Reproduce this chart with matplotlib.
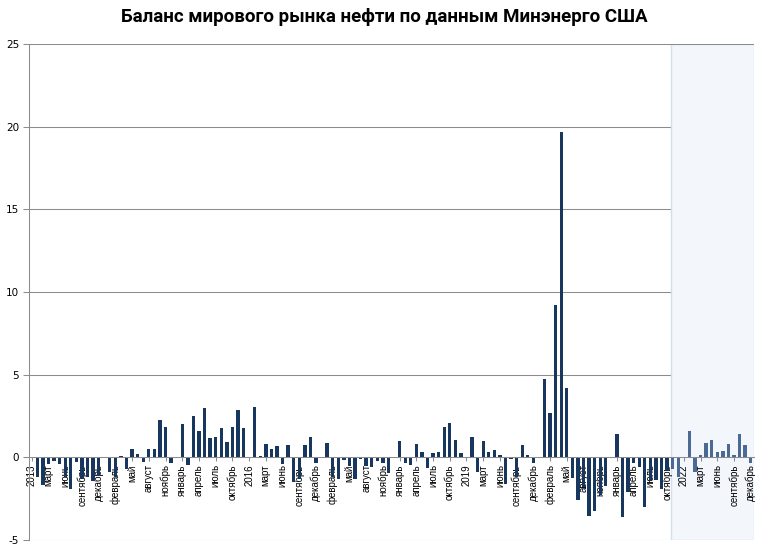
import numpy as np
import matplotlib.pyplot as plt

plt.rcParams['axes.unicode_minus'] = False

# Balance of the world oil market (EIA), monthly, mb/d
years = [2013, 2014, 2015, 2016, 2017, 2018, 2019, 2020, 2021, 2022]
months = ['январь', 'февраль', 'март', 'апрель', 'май', 'июнь',
          'июль', 'август', 'сентябрь', 'октябрь', 'ноябрь', 'декабрь']

bal_2013 = [-1.17, -1.68, -0.43, -0.23, -0.39, -1.17, -1.92, -0.27, -1.33, -1.17, -1.43, -1.13]
bal_2014 = [-0.89, -1.2, 0.1, -0.69, 0.48, 0.23, -0.28, 0.52, 0.48, 2.24, 1.81, -0.34]
bal_2015 = [2.0, -0.47, 2.49, 1.59, 2.98, 1.15, 1.21, 1.76, 0.92, 1.82, 2.85, 1.76]
bal_2016 = [3.04, 0.11, 0.79, 0.49, 0.67, -0.42, 0.77, -1.52, -1.3, 0.77, 1.21, -0.33]
bal_2017 = [0.87, -1.2, -1.3, -0.14, -0.55, -1.3, -0.08, -0.55, -0.57, -0.2, -0.36, -0.93]
bal_2018 = [1.0, -0.36, -0.49, 0.83, 0.34, -0.67, 0.28, 0.34, 1.86, 2.05, 1.07, 0.28]
bal_2019 = [1.25, -0.91, 1.01, 0.34, 0.47, 0.16, -1.63, -0.11, -1.2, 0.77, 0.12, -0.36]
bal_2020 = [4.74, 2.68, 9.22, 19.7, 4.18, -1.26, -2.6, -1.78, -3.56, -3.26, -2.26, -1.74]
bal_2021 = [1.39, -3.62, -2.1, -0.32, -0.6, -3.02, -1.35, -1.4, -1.9, -0.8, -0.69, -1.19]
bal_2022 = [1.58, -0.89, 0.17, 0.85, 1.03, 0.3, 0.36, 0.79, 0.17, 1.4, 0.73, -0.34]

series = [bal_2013, bal_2014, bal_2015, bal_2016, bal_2017,
          bal_2018, bal_2019, bal_2020, bal_2021, bal_2022]

# each year: one empty category with the year label, then 12 months
labels = []
values = []
for y, vals in zip(years, series):
    labels.append(str(y))
    values.append(np.nan)
    labels += months
    values += vals
values = np.array(values)
x = np.arange(len(labels))

forecast_from = 8 * 13 + 11  # ноябрь 2021
dark = '#17375e'
light = '#4a6994'

fig = plt.figure(figsize=(7.68, 5.5), dpi=100)
ax = fig.add_axes([29 / 768, 10 / 550, 724.5 / 768, 496 / 550])

ax.set_xlim(-0.5, len(labels) - 0.5)
ax.set_ylim(-5, 25)

# grid
for g in [-5, 5, 10, 15, 20]:
    ax.axhline(g, color='#8c8c8c', lw=0.75, zorder=0)
ax.axhline(25, color='#8c8c8c', lw=0.75, zorder=2)

# forecast area
ax.axvspan(forecast_from - 0.35, len(labels) - 0.45, ymin=0, ymax=1,
           facecolor='#f3f7fc', edgecolor='#d3dfee', lw=1, zorder=1)

ok = ~np.isnan(values)
cols = [light if i >= forecast_from else dark for i in x[ok]]
ax.bar(x[ok], values[ok], width=0.6, color=cols, zorder=3)

# axes
for s in ['top', 'right']:
    ax.spines[s].set_visible(False)
ax.spines['left'].set_color('#8c8c8c')
ax.spines['left'].set_linewidth(0.75)
ax.spines['bottom'].set_position(('data', 0))
ax.spines['bottom'].set_color('#8c8c8c')
ax.spines['bottom'].set_linewidth(0.75)
ax.spines['bottom'].set_zorder(4)

ax.set_yticks(range(-5, 26, 5))
ax.tick_params(axis='y', length=4, width=0.75, color='#8c8c8c', labelsize=7.5, pad=3)

ax.set_xticks(x[::3])
ax.set_xticklabels(labels[::3], rotation=90, fontsize=7,
                   family=['Liberation Sans', 'DejaVu Sans'])
ax.tick_params(axis='x', length=3, width=0.75, color='#8c8c8c', pad=2)

fig.suptitle('Баланс мирового рынка нефти по данным Минэнерго США',
             x=0.5, y=0.985, fontsize=13.5, fontweight='bold',
             family=['Roboto', 'DejaVu Sans'])

fig.savefig('out.png', dpi=100)
